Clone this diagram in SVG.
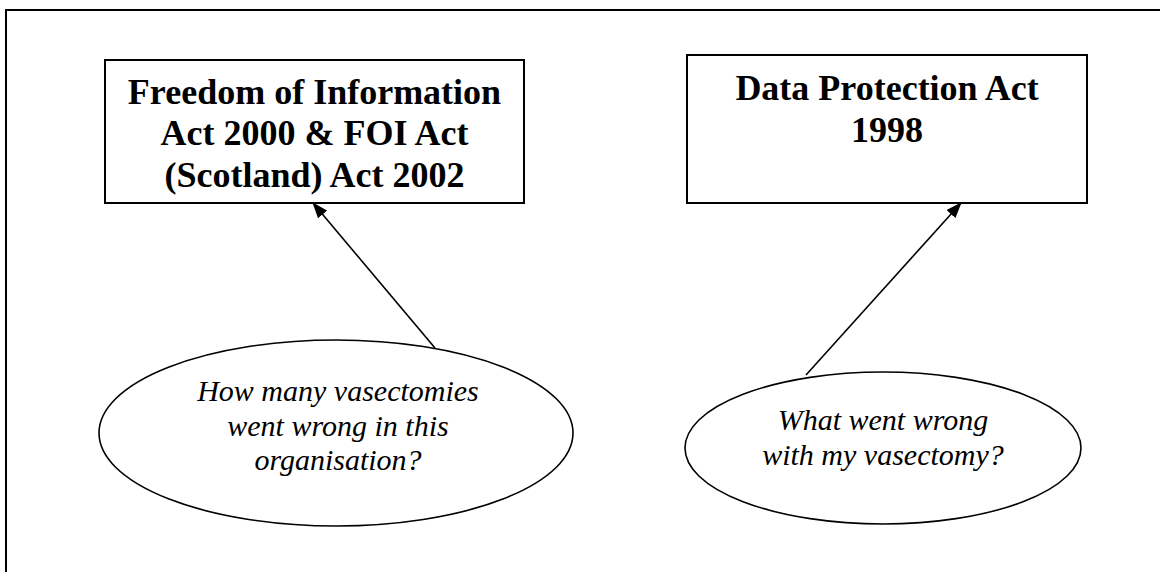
<svg xmlns="http://www.w3.org/2000/svg" width="1160" height="572" viewBox="0 0 1160 572">
<style>
.box{fill:#fff;stroke:#000;stroke-width:2}
.ell{fill:#fff;stroke:#000;stroke-width:1.6}
.title{font-family:"Liberation Serif","Times New Roman",serif;font-weight:bold;font-size:36px;fill:#000;text-anchor:middle}
.q{font-family:"Liberation Serif","Times New Roman",serif;font-style:italic;font-size:30px;fill:#000;text-anchor:middle}
.conn{stroke:#000;stroke-width:1.6;fill:none}
</style>
<defs>
<marker id="ah" markerUnits="userSpaceOnUse" markerWidth="16" markerHeight="12" refX="15" refY="6" orient="auto">
<path d="M0,0 L16,6 L0,12 Z" fill="#000"/>
</marker>
</defs>
<rect width="1160" height="572" fill="#fff"/>
<path d="M6,580 V10 H1170" fill="none" stroke="#000" stroke-width="2"/>
<g id="foi">
<rect class="box" x="105" y="60" width="419" height="143"/>
<text class="title" x="314.5" y="103.5">Freedom of Information</text>
<text class="title" x="314.5" y="145">Act 2000 &amp; FOI Act</text>
<text class="title" x="314.5" y="186.5">(Scotland) Act 2002</text>
</g>
<g id="dpa">
<rect class="box" x="687" y="55" width="400" height="148"/>
<text class="title" x="887" y="100">Data Protection Act</text>
<text class="title" x="887" y="141.5">1998</text>
</g>
<g id="q1">
<ellipse class="ell" cx="336" cy="433" rx="237" ry="93"/>
<text class="q" x="338" y="401">How many vasectomies</text>
<text class="q" x="338" y="436">went wrong in this</text>
<text class="q" x="338" y="470">organisation?</text>
</g>
<g id="q2">
<ellipse class="ell" cx="883" cy="448" rx="198" ry="76"/>
<text class="q" x="883" y="430">What went wrong</text>
<text class="q" x="883" y="465">with my vasectomy?</text>
</g>
<g id="connectors">
<line class="conn" x1="435" y1="348" x2="313" y2="203" marker-end="url(#ah)"/>
<line class="conn" x1="806" y1="375" x2="961" y2="203" marker-end="url(#ah)"/>
</g>
</svg>
